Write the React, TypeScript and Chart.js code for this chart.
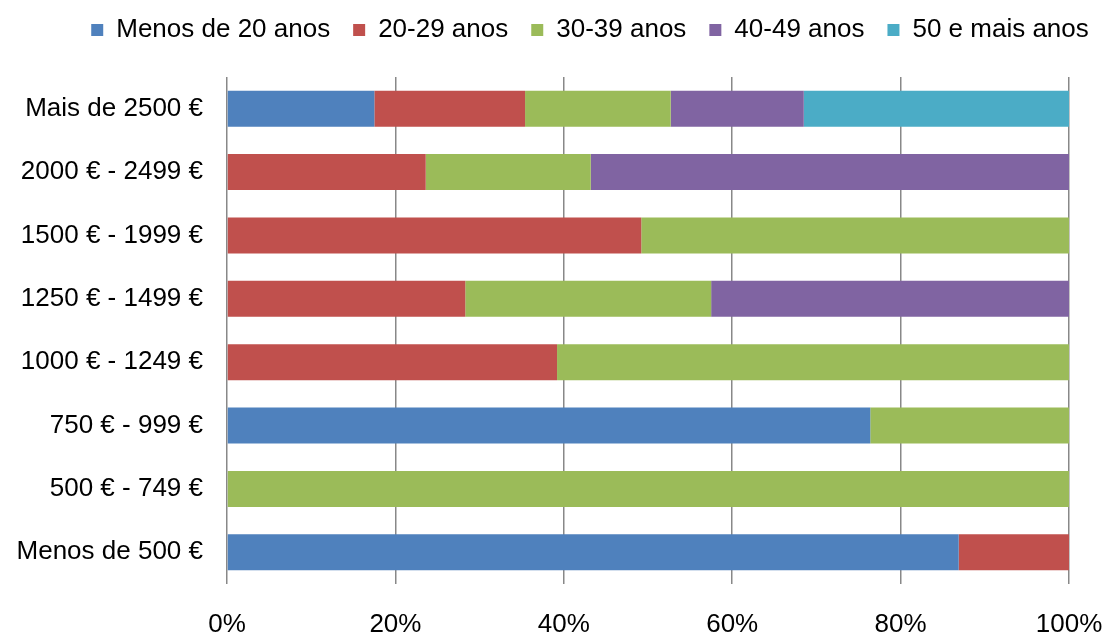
import React, { useEffect, useRef } from "react";
import { Chart, registerables } from "chart.js";

Chart.register(...registerables);

const categories = [
  "Mais de 2500 €",
  "2000 € - 2499 €",
  "1500 € - 1999 €",
  "1250 € - 1499 €",
  "1000 € - 1249 €",
  "750 € - 999 €",
  "500 € - 749 €",
  "Menos de 500 €",
];

const menos20 = [17.5, 0, 0, 0, 0, 76.4, 0, 86.9];
const anos20_29 = [17.9, 23.6, 49.2, 28.3, 39.2, 0, 0, 13.1];
const anos30_39 = [17.3, 19.6, 50.8, 29.2, 60.8, 23.6, 100, 0];
const anos40_49 = [15.8, 56.8, 0, 42.5, 0, 0, 0, 0];
const anos50 = [31.5, 0, 0, 0, 0, 0, 0, 0];

const seriesNames = ["Menos de 20 anos", "20-29 anos", "30-39 anos", "40-49 anos", "50 e mais anos"];
const seriesColors = ["#4F81BD", "#C0504D", "#9BBB59", "#8064A2", "#4BACC6"];
const xTicks = [0, 20, 40, 60, 80, 100];

const FONT = "'Liberation Sans', Arial, sans-serif";
const FS = 26;

export default function App() {
  const ref = useRef<HTMLCanvasElement | null>(null);
  useEffect(() => {
    if (!ref.current) return;
    const series = [menos20, anos20_29, anos30_39, anos40_49, anos50];
    const legendMargin = {
      id: "legendMargin",
      beforeInit(chart: any) {
        const orig = chart.legend.fit;
        chart.legend.fit = function () {
          orig.bind(chart.legend)();
          this.height += 18;
        };
      },
      afterLayout(chart: any) {
        chart.legend.left += 31;
        chart.legend.right += 31;
        chart.legend.top -= 6;
        chart.legend.bottom -= 6;
      },
    };
    const chart = new Chart(ref.current, {
      type: "bar",
      data: {
        labels: categories,
        datasets: series.map((d, i) => ({
          label: seriesNames[i],
          data: d,
          backgroundColor: seriesColors[i],
          borderWidth: 0,
          barPercentage: 1,
          categoryPercentage: 0.57,
        })),
      },
      options: {
        indexAxis: "y",
        animation: false,
        responsive: false,
        layout: { padding: { top: 0, right: 0, left: 12, bottom: 0 } },
        plugins: {
          legend: {
            position: "top",
            labels: {
              font: { family: FONT, size: FS },
              color: "#000",
              boxWidth: 12,
              boxHeight: 12,
              padding: 23,
            },
          },
          tooltip: { enabled: false },
        },
        scales: {
          x: {
            stacked: true,
            min: 0,
            max: 100,
            afterBuildTicks: (axis: any) => {
              axis.ticks = xTicks.map((v) => ({ value: v }));
            },
            afterFit: (scale: any) => {
              scale.height = 53;
              scale.paddingRight = 37;
              scale.paddingLeft = 0;
            },
            ticks: {
              callback: (v: any) => v + "%",
              font: { family: FONT, size: FS, lineHeight: 1 },
              color: "#000",
              padding: 28,
              maxRotation: 0,
            },
            grid: { color: "#888888", lineWidth: 1.5, drawTicks: false },
            border: { display: false },
          },
          y: {
            stacked: true,
            afterFit: (scale: any) => {
              scale.width = 215;
            },
            ticks: {
              font: { family: FONT, size: FS },
              color: "#000",
              padding: 24,
            },
            grid: { display: false, drawTicks: false },
            border: { display: false },
          },
        },
      },
      plugins: [legendMargin],
    });
    return () => chart.destroy();
  }, []);
  return (
    <div style={{ position: "absolute", left: 0, top: 0, width: 1106, height: 637, background: "#fff" }}>
      <canvas ref={ref} width={1106} height={637} />
    </div>
  );
}
